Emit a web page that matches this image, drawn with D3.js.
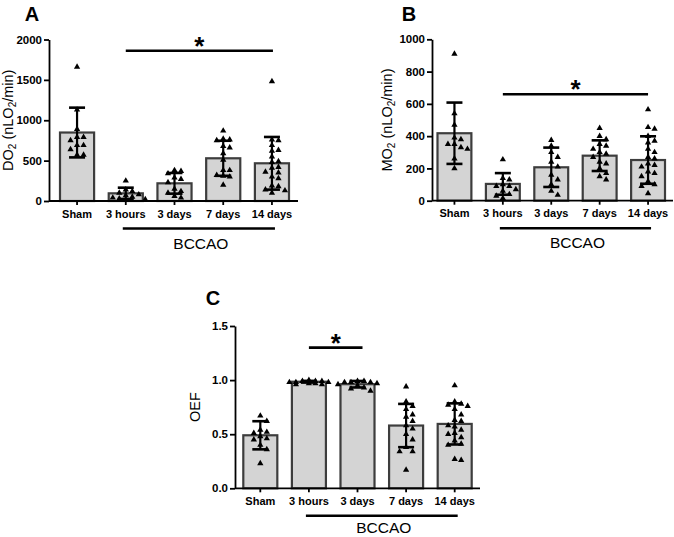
<html>
<head>
<style>
  body { margin: 0; background: #fff; }
  svg { font-family: "Liberation Sans", Arial, sans-serif; }
  .tick text { font-weight: bold; fill: #000; }
  .domain, .tick line { stroke: #000; stroke-width: 1.8; }
</style>
</head>
<body>
<svg></svg>
<script src="https://d3js.org/d3.v7.min.js"></script>
<script>
// groups on the x axis
var groups = ["Sham", "3 hours", "3 days", "7 days", "14 days"];

// panel A - DO2 (nLO2/min)
var doMean = [848, 95, 219, 529, 467];
var doSd = [308, 70, 128, 217, 326];
var doPoints = [
  [1660, 1130, 890, 790, 790, 750, 690, 690, 640, 570, 570],
  [250, 140, 120, 100, 80, 70, 50, 40, 30, 20],
  [380, 370, 340, 290, 270, 230, 150, 120, 100, 60, 40],
  [870, 770, 760, 750, 680, 660, 590, 510, 380, 380, 320, 310, 300, 200],
  [1480, 760, 750, 690, 630, 620, 550, 490, 480, 420, 410, 360, 350, 300, 280, 190, 180, 140, 130, 100]
];
var doTicks = [0, 500, 1000, 1500, 2000];

// panel B - MO2 (nLO2/min)
var moMean = [418, 104, 207, 279, 252];
var moSd = [190, 67, 122, 95, 147];
var moPoints = [
  [910, 540, 470, 390, 380, 350, 350, 330, 320, 260, 200],
  [255, 140, 130, 100, 90, 90, 70, 60, 40, 30, 15],
  [375, 340, 300, 270, 240, 210, 160, 130, 100, 60, 35],
  [450, 400, 380, 350, 340, 320, 300, 290, 270, 240, 230, 200, 170, 150, 130],
  [565, 455, 445, 400, 370, 360, 320, 300, 270, 260, 230, 220, 210, 180, 170, 150, 120, 100, 90, 45]
];
var moTicks = [0, 200, 400, 600, 800, 1000];

// panel C - OEF
var oefMean = [0.49, 0.985, 0.962, 0.58, 0.595];
var oefSd = [0.13, 0.008, 0.03, 0.2, 0.19];
var oefPoints = [
  [0.67, 0.62, 0.54, 0.52, 0.51, 0.48, 0.46, 0.45, 0.40, 0.36, 0.23],
  [1.0, 0.99, 0.99, 0.99, 0.98, 0.98, 0.98, 0.97, 0.97, 0.96, 0.96],
  [0.99, 0.99, 0.98, 0.98, 0.98, 0.97, 0.96, 0.95, 0.93, 0.92, 0.90],
  [0.94, 0.80, 0.76, 0.73, 0.68, 0.66, 0.62, 0.58, 0.55, 0.50, 0.45, 0.38, 0.34, 0.34, 0.17],
  [0.95, 0.80, 0.78, 0.77, 0.76, 0.73, 0.68, 0.63, 0.62, 0.58, 0.57, 0.54, 0.51, 0.50, 0.47, 0.44, 0.41, 0.40, 0.27, 0.26]
];
var oefTicks = [0, 0.5, 1.0, 1.5];

var svg = d3.select("svg").attr("width", 674).attr("height", 537);

// spread points sideways so the triangles don't sit on each other
function swarm(vals, y, cx) {
  var placed = [];
  var pts = vals.map(function(v) { return {v: v, py: y(v)}; })
    .sort(function(a, b) { return a.py - b.py; });
  pts.forEach(function(p, n) {
    var found = false;
    for (var k = 0; k < 7; k++) {
      var off = (k % 2 ? 1 : -1) * Math.ceil(k / 2) * 6.5;
      var hit = placed.some(function(q) {
        return Math.abs(q.px - (cx + off)) < 6 && Math.abs(q.py - p.py) < 5.5;
      });
      if (!hit) { p.px = cx + off; found = true; break; }
    }
    if (!found) p.px = cx + ((n % 5) - 2) * 6.5;
    placed.push(p);
  });
  return placed;
}

function drawPanel(cfg) {
  var g = svg.append("g");
  var x = d3.scaleBand().domain(groups).range(cfg.band).paddingInner(0.3).paddingOuter(0);
  var y = d3.scaleLinear().domain([cfg.ticks[0], cfg.ticks[cfg.ticks.length - 1]]).range(cfg.yRange);
  var cx = function(d) { return x(d) + x.bandwidth() / 2; };

  // bars
  g.selectAll(".bar").data(groups).join("rect")
    .attr("x", function(d) { return x(d); })
    .attr("y", function(d, i) { return y(cfg.mean[i]); })
    .attr("width", x.bandwidth())
    .attr("height", function(d, i) { return y(0) - y(cfg.mean[i]); })
    .attr("fill", "#d4d4d4").attr("stroke", "#3d3d3d").attr("stroke-width", 2.2);

  // error bars (mean +/- SD)
  groups.forEach(function(d, i) {
    var top = y(cfg.mean[i] + cfg.sd[i]), bot = y(Math.max(0, cfg.mean[i] - cfg.sd[i]));
    g.append("line").attr("x1", cx(d)).attr("x2", cx(d)).attr("y1", top).attr("y2", bot)
      .attr("stroke", "#000").attr("stroke-width", 2.2);
    [top, bot].forEach(function(yy) {
      g.append("line").attr("x1", cx(d) - 8).attr("x2", cx(d) + 8).attr("y1", yy).attr("y2", yy)
        .attr("stroke", "#000").attr("stroke-width", 2.6);
    });
  });

  // scatter
  var tri = d3.symbol().type(d3.symbolTriangle).size(17);
  groups.forEach(function(d, i) {
    var pts = swarm(cfg.points[i], y, cx(d));
    g.selectAll(null).data(pts).join("path")
      .attr("d", tri)
      .attr("transform", function(p) { return "translate(" + p.px + "," + p.py + ")"; })
      .attr("fill", "#000");
  });

  // y axis
  svg.append("g").attr("transform", "translate(" + cfg.axisX[0] + ",0)")
    .call(d3.axisLeft(y).tickValues(cfg.ticks).tickFormat(cfg.fmt).tickSize(5).tickPadding(2).tickSizeOuter(0))
    .selectAll("text").style("font-size", "11.5px");

  // x axis
  var gx = svg.append("g").attr("transform", "translate(0," + y(0) + ")")
    .call(d3.axisBottom(x).tickSize(4).tickPadding(5).tickSizeOuter(0));
  gx.select(".domain").remove();
  gx.selectAll("text").style("font-size", "11px");
  svg.append("line").attr("x1", cfg.axisX[0]).attr("x2", cfg.axisX[1])
    .attr("y1", y(0)).attr("y2", y(0)).attr("stroke", "#000").attr("stroke-width", 1.8);

  // axis title
  var ym = (cfg.yRange[0] + cfg.yRange[1]) / 2;
  var t = svg.append("text").attr("transform", "translate(" + cfg.titleX + "," + ym + ") rotate(-90)")
    .attr("text-anchor", "middle").style("font-size", "14.5px");
  cfg.title.forEach(function(part) {
    t.append("tspan").text(part[0])
      .attr("baseline-shift", part[1] ? "-30%" : null)
      .style("font-size", part[1] ? "10px" : null);
  });

  // significance bar
  var sx1 = cx(groups[cfg.sig[0]]), sx2 = cx(groups[cfg.sig[1]]) + cfg.sigExtra;
  var sy = y(cfg.sigY);
  svg.append("line").attr("x1", sx1).attr("x2", sx2).attr("y1", sy).attr("y2", sy)
    .attr("stroke", "#000").attr("stroke-width", 2.6);
  svg.append("text").attr("x", (sx1 + sx2) / 2).attr("y", sy - 10.5 + 0.553 * 26)
    .attr("text-anchor", "middle").style("font-size", "26px").style("font-weight", "bold").text("*");

  // BCCAO bracket
  var bx1 = cx(groups[1]) - 3, bx2 = cx(groups[4]) + 3;
  svg.append("line").attr("x1", bx1).attr("x2", bx2).attr("y1", y(0) + 27.5).attr("y2", y(0) + 27.5)
    .attr("stroke", "#000").attr("stroke-width", 2.6);
  svg.append("text").attr("x", (bx1 + bx2) / 2 + 2).attr("y", Math.min(y(0) + 47.5, 533))
    .attr("text-anchor", "middle").style("font-size", "15.5px").text("BCCAO");

  // panel letter
  svg.append("text").attr("x", cfg.letterPos[0]).attr("y", cfg.letterPos[1])
    .attr("text-anchor", "middle").style("font-size", "20px").style("font-weight", "bold").text(cfg.letter);
}

drawPanel({
  letter: "A", letterPos: [32, 21],
  mean: doMean, sd: doSd, points: doPoints, ticks: doTicks, fmt: d3.format("d"),
  band: [60, 289], axisX: [49, 298], yRange: [201, 39.5], titleX: 13,
  title: [["DO", false], ["2", true], [" (nLO", false], ["2", true], ["/min)", false]],
  sig: [1, 4], sigExtra: 1, sigY: 1860
});

drawPanel({
  letter: "B", letterPos: [409, 21],
  mean: moMean, sd: moSd, points: moPoints, ticks: moTicks, fmt: d3.format("d"),
  band: [437.5, 665], axisX: [432, 673], yRange: [200.7, 39.3], titleX: 392,
  title: [["MO", false], ["2", true], [" (nLO", false], ["2", true], ["/min)", false]],
  sig: [1, 4], sigExtra: 0, sigY: 660
});

drawPanel({
  letter: "C", letterPos: [213, 305],
  mean: oefMean, sd: oefSd, points: oefPoints, ticks: oefTicks, fmt: d3.format(".1f"),
  band: [243.3, 471.7], axisX: [235, 480], yRange: [488.3, 326], titleX: 200,
  title: [["OEF", false]],
  sig: [1, 2], sigExtra: 5, sigY: 1.30
});
</script>
</body>
</html>
